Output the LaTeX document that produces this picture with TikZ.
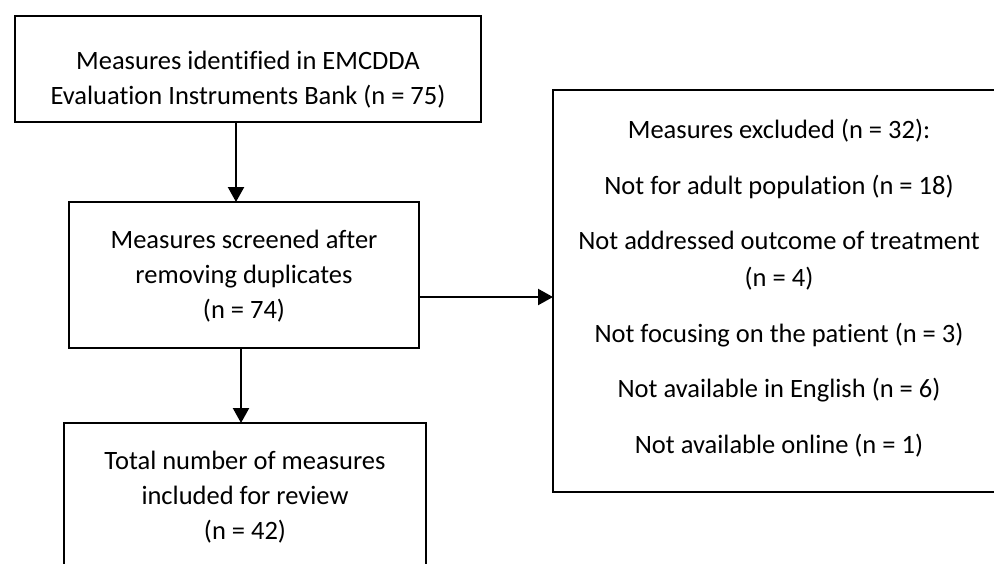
\documentclass[tikz,border=0pt]{standalone}
\usepackage{fontspec}
\setmainfont{Carlito}[Ligatures={NoCommon,NoContextual}]
\usetikzlibrary{arrows.meta}

\begin{document}
\begin{tikzpicture}[
        x=0.5pt, y=-0.5pt,
        box/.style={rectangle, draw, line width=1.2pt, inner sep=0pt, outer sep=0pt},
        txt/.style={align=center, inner sep=0pt, font=\fontsize{13.25}{17.5}\selectfont},
        arrow/.style={-{Triangle[length=7.5pt,width=8pt]}, line width=1.1pt}
    ]
    \useasboundingbox (0,0) rectangle (994,563);
    \clip (0,0) rectangle (994,563);

    % Boxes
    \node[box, minimum width=233pt, minimum height=53pt] (idbox) at (248,69) {};
    \node[box, minimum width=175pt, minimum height=73pt] (screenbox) at (244,275) {};
    \node[box, minimum width=181pt, minimum height=98.5pt] (inclbox) at (245,521.5) {};
    \node[box, minimum width=226pt, minimum height=201pt] (exclbox) at (779,291) {};

    % Texts
    \node[txt] (idtext) at (248,80) {Measures identified in EMCDDA\\Evaluation Instruments Bank (n = 75)};
    \node[txt] (screentext) at (244,276) {Measures screened after\\removing duplicates\\(n = 74)};
    \node[txt] (incltext) at (245,497) {Total number of measures\\included for review\\(n = 42)};
    \node[txt, font=\fontsize{13.25}{18.5}\selectfont] (excltext) at (779,288) {Measures excluded (n = 32):\\[9.25pt]
        Not for adult population (n = 18)\\[9.25pt]
        Not addressed outcome of treatment\\(n = 4)\\[9.25pt]
        Not focusing on the patient (n = 3)\\[9.25pt]
        Not available in English (n = 6)\\[9.25pt]
        Not available online (n = 1)};

    % Arrows
    \coordinate (downa) at (236,0);
    \coordinate (downb) at (241,0);
    \coordinate (side) at (0,297);
    \draw[arrow] (idbox.south -| downa) -- (screenbox.north -| downa);
    \draw[arrow] (screenbox.south -| downb) -- (inclbox.north -| downb);
    \draw[arrow] (screenbox.east |- side) -- (exclbox.west |- side);

\end{tikzpicture}
\end{document}
